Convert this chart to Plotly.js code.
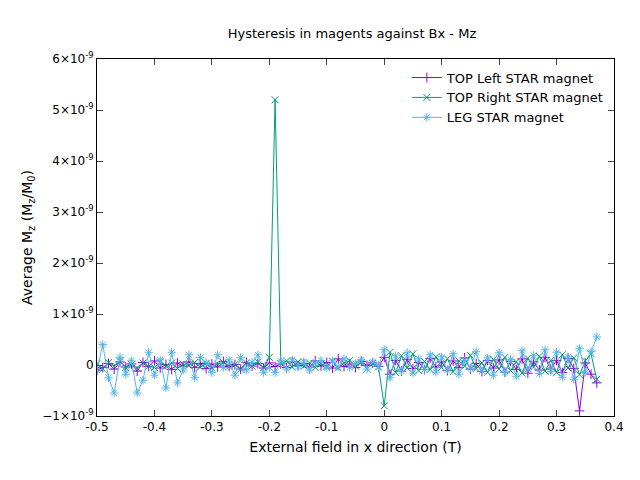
<!DOCTYPE html>
<html>
<head>
<meta charset="utf-8">
<script src="https://cdn.plot.ly/plotly-3.0.1.min.js"></script>
<style>body{margin:0}#plot{width:640px;height:480px}</style>
</head>
<body>
<div id="plot"></div>
<script>
// field values (T)
var fieldX = [-0.50,-0.49,-0.48,-0.47,-0.46,-0.45,-0.44,-0.43,-0.42,-0.41,
  -0.40,-0.39,-0.38,-0.37,-0.36,-0.35,-0.34,-0.33,-0.32,-0.31,
  -0.30,-0.29,-0.28,-0.27,-0.26,-0.25,-0.24,-0.23,-0.22,-0.21,
  -0.20,-0.19,-0.18,-0.17,-0.16,-0.15,-0.14,-0.13,-0.12,-0.11,
  -0.10,-0.09,-0.08,-0.07,-0.06,-0.05,-0.04,-0.03,-0.02,-0.01,
  0.00,0.01,0.02,0.03,0.04,0.05,0.06,0.07,0.08,0.09,
  0.10,0.11,0.12,0.13,0.14,0.15,0.16,0.17,0.18,0.19,
  0.20,0.21,0.22,0.23,0.24,0.25,0.26,0.27,0.28,0.29,
  0.30,0.31,0.32,0.33,0.34,0.35,0.36,0.37];

// Mz values in units of 1e-10
var topLeft = [-1,-0.5,0.3,-0.8,0.6,-0.4,0.2,-1.2,0.5,-0.3,
  0.8,-0.6,0.1,-0.9,0.4,-0.2,0.6,-0.5,0.3,-0.7,
  0.2,-0.4,0.7,-0.3,0.1,-0.8,0.5,-0.2,0.3,-0.6,
  0.4,-0.3,0.2,-0.5,0.6,-0.1,0.3,-0.4,0.8,-0.2,
  0.5,-0.6,1.2,-0.3,0.2,-0.5,0.7,-0.1,0.4,-0.3,
  1.5,-1.8,0.9,-1.2,1.1,-0.7,0.5,-0.9,1.3,-0.4,
  0.6,-1.1,0.8,-0.5,1.4,-0.8,0.3,-1.3,0.9,-0.6,
  1.0,-1.4,0.7,-0.9,1.2,-1.6,0.6,-1.0,1.5,-0.8,
  0.9,-1.5,1.3,-0.7,-9,0.4,-1.8,-3.5];
var topRight = [0.3,-0.8,0.5,-0.2,0.7,-0.5,0.1,-0.6,0.4,-0.3,
  -0.5,0.6,-0.2,0.4,-0.7,0.2,-0.1,0.5,-0.4,0.3,
  -0.6,0.2,0.5,-0.3,0.1,-0.8,0.4,-0.2,0.6,-0.5,
  1.5,52,0.3,0.8,-0.4,0.6,-0.2,0.4,-0.5,0.2,
  -0.3,0.7,-0.6,0.4,0.9,-0.2,0.5,-0.8,0.3,-0.4,
  -8,2.5,-1.5,1.8,-0.6,2.2,-1.1,0.7,-0.9,1.6,
  -0.5,1.2,-1.3,0.8,-0.2,1.9,-0.7,0.4,-1.4,1.1,
  -0.8,1.5,-1.1,0.6,-1.6,1.3,-0.4,1.7,-1.2,0.9,
  -1.5,2.0,-0.6,1.4,-1.9,0.8,2.2,-2.8];
var leg = [-1,4,-2.5,-5.5,1.5,-1.8,0.8,-5.5,-3,2.5,
  -2,1,-4.5,2.5,-3.5,-1,2,-2.5,1.5,0.5,
  -1.5,2,-0.5,1,-2,1.5,-1,0.5,2,-1.5,
  -0.5,-1.5,0.8,-0.8,1,-0.3,0.6,-1,0.4,0.9,
  -0.6,0.8,-0.4,1.2,-0.5,0.3,1,-0.8,0.6,-0.2,
  3,-2.5,1.8,-1.2,2.4,-1.6,1.2,-0.9,2,-1.4,
  1.6,-1,2.2,-1.8,0.9,-0.6,2.6,-1.2,1.4,-2,
  2.4,-1.5,1.1,-2.2,2.8,-0.8,1.9,-1.7,3,-1.3,
  2.5,-2.4,1.6,-2.8,3.2,-1.5,2.6,5.5];

var yTickVals = [-1e-9,0,1e-9,2e-9,3e-9,4e-9,5e-9,6e-9];
var yTickText = ['\u22121\u00d710<sup>-9</sup>','0','1\u00d710<sup>-9</sup>','2\u00d710<sup>-9</sup>',
  '3\u00d710<sup>-9</sup>','4\u00d710<sup>-9</sup>','5\u00d710<sup>-9</sup>','6\u00d710<sup>-9</sup>'];

function scale(a) { return a.map(function (v) { return v * 1e-10; }); }

function series(name, ys, color, symbol) {
    return {
        x: fieldX, y: scale(ys), name: name, mode: 'lines+markers', type: 'scatter',
        line: {color: color, width: 1},
        marker: {symbol: symbol, size: 7, color: color, line: {color: color, width: 1}}
    };
}

var data = [
    series('TOP Left STAR magnet', topLeft, '#9400d3', 'cross-thin-open'),
    series('TOP Right STAR magnet', topRight, '#009e73', 'x-thin-open'),
    series('LEG STAR magnet', leg, '#56b4e9', 'asterisk-open')
];

var layout = {
    width: 640, height: 480,
    margin: {l: 97, r: 26, t: 59, b: 64},
    font: {family: 'DejaVu Sans', size: 12, color: '#000'},
    paper_bgcolor: '#fff', plot_bgcolor: '#fff',
    title: {text: 'Hysteresis in magents against Bx - Mz', x: 0.55, y: 0.94, font: {size: 13}},
    showlegend: true,
    legend: {x: 0.99, y: 0.99, xanchor: 'right', yanchor: 'top', bgcolor: 'rgba(0,0,0,0)', font: {size: 13}},
    xaxis: {
        range: [-0.5, 0.4], tickvals: [-0.5,-0.4,-0.3,-0.2,-0.1,0,0.1,0.2,0.3,0.4],
        ticktext: ['-0.5','-0.4','-0.3','-0.2','-0.1','0','0.1','0.2','0.3','0.4'],
        showgrid: false, zeroline: false, showline: true, mirror: 'ticks', linecolor: '#000',
        ticks: 'inside', ticklen: 6,
        title: {text: 'External field in x direction (T)', standoff: 8}
    },
    yaxis: {
        range: [-1e-9, 6e-9], tickvals: yTickVals, ticktext: yTickText,
        showgrid: false, zeroline: false, showline: true, mirror: 'ticks', linecolor: '#000',
        ticks: 'inside', ticklen: 6,
        title: {text: 'Average M<sub>z</sub> (M<sub>z</sub>/M<sub>0</sub>)', standoff: 6}
    }
};

Plotly.newPlot('plot', data, layout, {displayModeBar: false});
</script>
</body>
</html>
